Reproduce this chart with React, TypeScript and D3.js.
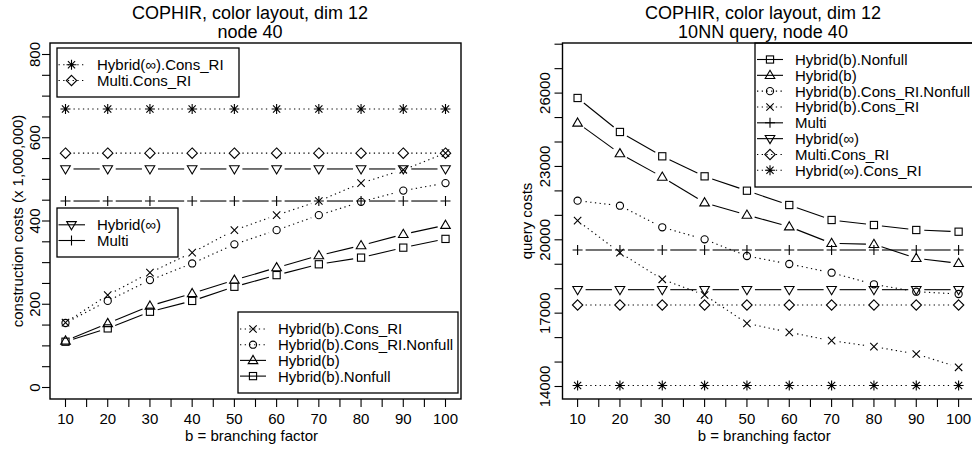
import React from 'react';
import * as d3 from 'd3';

// ---------- data ----------
const branching = [10, 20, 30, 40, 50, 60, 70, 80, 90, 100];
const xTickLabels = ['10', '20', '30', '40', '50', '60', '70', '80', '90', '100'];

// Left panel: construction costs (x 1,000,000)
const buildHybInfConsRI = [669, 669, 669, 669, 669, 669, 669, 669, 669, 669];
const buildMultiConsRI = [563, 563, 563, 563, 563, 563, 563, 563, 563, 563];
const buildHybInf = [525, 525, 525, 525, 525, 525, 525, 525, 525, 525];
const buildMulti = [448, 448, 448, 448, 448, 448, 448, 448, 448, 448];
const buildHybBConsRI = [156, 222, 276, 324, 378, 414, 448, 491, 523, 563];
const buildHybBConsRINonfull = [155, 208, 258, 298, 344, 378, 414, 446, 473, 491];
const buildHybB = [112, 154, 196, 226, 258, 288, 317, 341, 368, 390];
const buildHybBNonfull = [110, 142, 182, 208, 242, 270, 296, 312, 336, 357];
const leftYTickLabels = [0, 200, 400, 600, 800];

// Right panel: 10NN query costs
const queryHybBNonfull = [25800, 24410, 23415, 22596, 22008, 21423, 20810, 20605, 20401, 20331];
const queryHybB = [24779, 23525, 22568, 21518, 21014, 20536, 19857, 19816, 19243, 19039];
const queryHybBConsRINonfull = [21600, 21395, 20511, 20020, 19337, 19010, 18654, 18180, 17877, 17783];
const queryHybBConsRI = [20782, 19474, 18384, 17742, 16584, 16215, 15874, 15629, 15329, 14785];
const queryMulti = [19583, 19583, 19583, 19583, 19583, 19583, 19583, 19583, 19583, 19583];
const queryHybInf = [17960, 17960, 17960, 17960, 17960, 17960, 17960, 17960, 17960, 17960];
const queryMultiConsRI = [17333, 17333, 17333, 17333, 17333, 17333, 17333, 17333, 17333, 17333];
const queryHybInfConsRI = [14040, 14040, 14040, 14040, 14040, 14040, 14040, 14040, 14040, 14040];
const rightYTickLabels = [14000, 17000, 20000, 23000, 26000];

const FONT = 'Liberation Sans, Arial, Helvetica, sans-serif';

type Sym = 'square' | 'circle' | 'tri' | 'dtri' | 'plus' | 'x' | 'diamond' | 'star';

function Symbol({ type, cx, cy }: { type: Sym; cx: number; cy: number }) {
  const st = { fill: 'none', stroke: '#000', strokeWidth: 1.1 };
  switch (type) {
    case 'square':
      return <rect x={cx - 3.6} y={cy - 3.6} width={7.2} height={7.2} {...st} />;
    case 'circle':
      return <circle cx={cx} cy={cy} r={3.6} {...st} />;
    case 'tri':
      return <polygon points={`${cx},${cy - 5} ${cx + 4.8},${cy + 3.2} ${cx - 4.8},${cy + 3.2}`} {...st} />;
    case 'dtri':
      return <polygon points={`${cx},${cy + 5} ${cx + 4.8},${cy - 3.2} ${cx - 4.8},${cy - 3.2}`} {...st} />;
    case 'plus':
      return <path d={`M${cx - 5},${cy}H${cx + 5}M${cx},${cy - 5}V${cy + 5}`} {...st} />;
    case 'x':
      return <path d={`M${cx - 3.7},${cy - 3.7}L${cx + 3.7},${cy + 3.7}M${cx - 3.7},${cy + 3.7}L${cx + 3.7},${cy - 3.7}`} {...st} />;
    case 'diamond':
      return <polygon points={`${cx},${cy - 5.2} ${cx + 5.2},${cy} ${cx},${cy + 5.2} ${cx - 5.2},${cy}`} {...st} />;
    case 'star':
      return (
        <path
          d={`M${cx - 5},${cy}H${cx + 5}M${cx},${cy - 5}V${cy + 5}M${cx - 3.6},${cy - 3.6}L${cx + 3.6},${cy + 3.6}M${cx - 3.6},${cy + 3.6}L${cx + 3.6},${cy - 3.6}`}
          {...st}
        />
      );
  }
  return null;
}

interface Series {
  name: string;
  values: number[];
  sym: Sym;
  dotted: boolean;
}

const DOT = '1.3 3.4';
const GAP = 8;

function SeriesMarks({ s, x, y }: { s: Series; x: d3.ScaleLinear<number, number>; y: d3.ScaleLinear<number, number> }) {
  const pts: [number, number][] = branching.map((b, i) => [x(b), y(s.values[i])]);
  const line = d3.line();
  const segs: string[] = [];
  for (let i = 0; i < pts.length - 1; i++) {
    const [x0, y0] = pts[i];
    const [x1, y1] = pts[i + 1];
    const dx = x1 - x0;
    const dy = y1 - y0;
    const len = Math.hypot(dx, dy);
    if (len <= 2 * GAP) continue;
    const ux = dx / len;
    const uy = dy / len;
    segs.push(line([[x0 + ux * GAP, y0 + uy * GAP], [x1 - ux * GAP, y1 - uy * GAP]]) as string);
  }
  return (
    <g>
      {segs.map((d, i) => (
        <path key={i} d={d} fill="none" stroke="#000" strokeWidth={1.1} strokeDasharray={s.dotted ? DOT : undefined} />
      ))}
      {pts.map((p, i) => (
        <Symbol key={i} type={s.sym} cx={p[0]} cy={p[1]} />
      ))}
    </g>
  );
}

function Legend({ items, x0, y0, x1, y1, cy0, step, symX, lineX0, lineX1, textX }: any) {
  return (
    <g>
      <rect x={x0} y={y0} width={x1 - x0} height={y1 - y0} fill="#fff" stroke="#000" strokeWidth={1.3} />
      {items.map((s: Series, i: number) => {
        const cy = cy0 + i * step;
        return (
          <g key={s.name}>
            <line x1={lineX0} x2={lineX1} y1={cy} y2={cy} stroke="#000" strokeWidth={1.1} strokeDasharray={s.dotted ? DOT : undefined} />
            <Symbol type={s.sym} cx={symX} cy={cy} />
            <text x={textX} y={cy} dy="0.36em" fontSize={15} fontFamily={FONT} fill="#000">
              {s.name}
            </text>
          </g>
        );
      })}
    </g>
  );
}

const leftSeries: Record<string, Series> = {
  hinfc: { name: 'Hybrid(\u221E).Cons_RI', values: buildHybInfConsRI, sym: 'star', dotted: true },
  mc: { name: 'Multi.Cons_RI', values: buildMultiConsRI, sym: 'diamond', dotted: true },
  hinf: { name: 'Hybrid(\u221E)', values: buildHybInf, sym: 'dtri', dotted: false },
  m: { name: 'Multi', values: buildMulti, sym: 'plus', dotted: false },
  hbc: { name: 'Hybrid(b).Cons_RI', values: buildHybBConsRI, sym: 'x', dotted: true },
  hbcn: { name: 'Hybrid(b).Cons_RI.Nonfull', values: buildHybBConsRINonfull, sym: 'circle', dotted: true },
  hb: { name: 'Hybrid(b)', values: buildHybB, sym: 'tri', dotted: false },
  hbn: { name: 'Hybrid(b).Nonfull', values: buildHybBNonfull, sym: 'square', dotted: false },
};

const rightSeries: Series[] = [
  { name: 'Hybrid(b).Nonfull', values: queryHybBNonfull, sym: 'square', dotted: false },
  { name: 'Hybrid(b)', values: queryHybB, sym: 'tri', dotted: false },
  { name: 'Hybrid(b).Cons_RI.Nonfull', values: queryHybBConsRINonfull, sym: 'circle', dotted: true },
  { name: 'Hybrid(b).Cons_RI', values: queryHybBConsRI, sym: 'x', dotted: true },
  { name: 'Multi', values: queryMulti, sym: 'plus', dotted: false },
  { name: 'Hybrid(\u221E)', values: queryHybInf, sym: 'dtri', dotted: false },
  { name: 'Multi.Cons_RI', values: queryMultiConsRI, sym: 'diamond', dotted: true },
  { name: 'Hybrid(\u221E).Cons_RI', values: queryHybInfConsRI, sym: 'star', dotted: true },
];

function XAxis({ x, yBase }: { x: d3.ScaleLinear<number, number>; yBase: number }) {
  const ticks = d3.range(10, 101, 5);
  return (
    <g>
      {ticks.map((t) => (
        <line key={t} x1={x(t)} x2={x(t)} y1={yBase} y2={yBase + 8} stroke="#000" strokeWidth={1.1} />
      ))}
      {branching.map((b, i) => (
        <text key={b} x={x(b)} y={424} textAnchor="middle" fontSize={15} fontFamily={FONT}>
          {xTickLabels[i]}
        </text>
      ))}
    </g>
  );
}

export default function App() {
  // geometry
  const top = 43;
  const bottom = 399;

  // left panel
  const xL = d3.scaleLinear().domain([10, 100]).range([65.5, 445.5]);
  const yL = d3.scaleLinear().domain([0, 800]).range([387.5, 54.5]);
  const lLeft = 50;
  const lRight = 461;

  // right panel
  const xR = d3.scaleLinear().domain([10, 100]).range([577.6, 958.6]);
  const yR = d3.scaleLinear().domain([14000, 26000]).range([386.5, 93.1]);
  const rLeft = 562.5;
  const rRight = 974;

  const leftMinor = d3.range(0, 801, 50);
  const rightMinor = d3.range(14000, 28001, 1000);

  const ls = leftSeries;
  const leftDrawOrder = [ls.hinfc, ls.mc, ls.hinf, ls.m, ls.hbc, ls.hbcn, ls.hb, ls.hbn];

  return (
    <svg width={972} height={451} style={{ position: 'absolute', left: 0, top: 0, background: '#fff' }} fontFamily={FONT}>
      <rect x={0} y={0} width={972} height={451} fill="#fff" />

      {/* ---------- LEFT PANEL ---------- */}
      <text x={250} y={18.5} textAnchor="middle" fontSize={18}>COPHIR, color layout, dim 12</text>
      <text x={250} y={37.5} textAnchor="middle" fontSize={18}>node 40</text>

      {leftDrawOrder.map((s) => (
        <SeriesMarks key={s.name} s={s} x={xL} y={yL} />
      ))}

      <Legend items={[ls.hinfc, ls.mc]} x0={57} y0={48} x1={239} y1={97} cy0={64.8} step={15.7}
        symX={71.5} lineX0={58.5} lineX1={85} textX={97} />
      <Legend items={[ls.hinf, ls.m]} x0={57} y0={208} x1={178} y1={257} cy0={224.8} step={15.7}
        symX={71.5} lineX0={58.5} lineX1={85} textX={97} />
      <Legend items={[ls.hbc, ls.hbcn, ls.hb, ls.hbn]} x0={238} y0={312} x1={458} y1={393} cy0={329} step={15.7}
        symX={253} lineX0={240} lineX1={266} textX={278} />

      <rect x={lLeft} y={top} width={lRight - lLeft} height={bottom - top} fill="none" stroke="#000" strokeWidth={1.4} />

      <XAxis x={xL} yBase={bottom} />
      {leftMinor.map((t) => (
        <line key={t} x1={lLeft} x2={lLeft - 8} y1={yL(t)} y2={yL(t)} stroke="#000" strokeWidth={1.1} />
      ))}
      {leftYTickLabels.map((t) => (
        <text key={t} transform={`translate(40,${yL(t)}) rotate(-90)`} textAnchor="middle" fontSize={15}>
          {t}
        </text>
      ))}
      <text x={(lLeft + lRight) / 2 - 4} y={441} textAnchor="middle" fontSize={15}>b = branching factor</text>
      <text transform={`translate(23,${(top + bottom) / 2}) rotate(-90)`} textAnchor="middle" fontSize={15}>
        construction costs (x 1,000,000)
      </text>

      {/* ---------- RIGHT PANEL ---------- */}
      <text x={763} y={18.5} textAnchor="middle" fontSize={18}>COPHIR, color layout, dim 12</text>
      <text x={763} y={37.5} textAnchor="middle" fontSize={18}>10NN query, node 40</text>

      {rightSeries.map((s) => (
        <SeriesMarks key={s.name} s={s} x={xR} y={yR} />
      ))}

      <Legend items={rightSeries} x0={755} y0={top} x1={rRight} y1={187} cy0={59.5} step={15.83}
        symX={770} lineX0={757} lineX1={783} textX={795} />

      <rect x={rLeft} y={top} width={rRight - rLeft} height={bottom - top} fill="none" stroke="#000" strokeWidth={1.4} />

      <XAxis x={xR} yBase={bottom} />
      {rightMinor.map((t) => (
        <line key={t} x1={rLeft} x2={rLeft - 8} y1={yR(t)} y2={yR(t)} stroke="#000" strokeWidth={1.1} />
      ))}
      {rightYTickLabels.map((t) => (
        <text key={t} transform={`translate(550,${yR(t)}) rotate(-90)`} textAnchor="middle" fontSize={15}>
          {t}
        </text>
      ))}
      <text x={(rLeft + 958.6 + 15.2) / 2 - 4} y={441} textAnchor="middle" fontSize={15}>b = branching factor</text>
      <text transform={`translate(532,${(top + bottom) / 2}) rotate(-90)`} textAnchor="middle" fontSize={15}>
        query costs
      </text>
    </svg>
  );
}
